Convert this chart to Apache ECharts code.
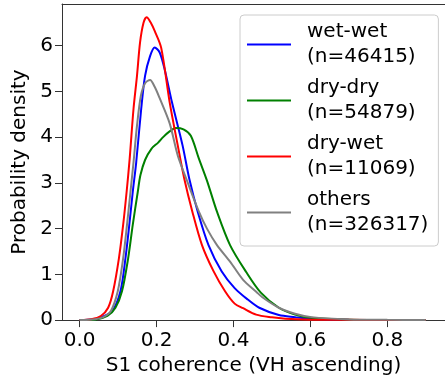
<!DOCTYPE html>
<html>
<head>
<meta charset="utf-8">
<script src="https://cdn.jsdelivr.net/npm/echarts@6/dist/echarts.min.js"></script>
<style>html,body{margin:0;padding:0;background:#fff;}#c{width:445px;height:381px;}</style>
</head>
<body>
<div id="c"></div>
<script>
const seriesNames = ['wet-wet', 'dry-dry', 'dry-wet', 'others'];
const seriesCounts = ['(n=46415)', '(n=54879)', '(n=11069)', '(n=326317)'];
const seriesColors = ['#0000ff', '#008000', '#ff0000', '#808080'];

const xTicks = [0.0, 0.2, 0.4, 0.6, 0.8];
const yTicks = [0, 1, 2, 3, 4, 5, 6];

const wetWetX = [0.0, 0.04, 0.059, 0.085, 0.106, 0.119, 0.129, 0.138, 0.147, 0.160, 0.170, 0.183, 0.195, 0.208, 0.221, 0.240, 0.2675, 0.285, 0.307, 0.335, 0.369, 0.403, 0.437, 0.467, 0.518, 0.56, 0.6, 0.7, 0.8, 0.9];
const wetWetY = [0.0, 0.02, 0.07, 0.2, 0.63, 1.35, 2.08, 2.80, 3.45, 4.62, 5.34, 5.77, 5.96, 5.85, 5.48, 4.76, 3.82, 3.09, 2.37, 1.64, 1.07, 0.70, 0.45, 0.27, 0.11, 0.065, 0.03, 0.008, 0.003, 0.0];

const dryDryX = [0.0, 0.04, 0.072, 0.093, 0.110, 0.126, 0.138, 0.151, 0.158, 0.170, 0.187, 0.204, 0.217, 0.233, 0.250, 0.270, 0.289, 0.310, 0.331, 0.357, 0.391, 0.433, 0.471, 0.518, 0.56, 0.6, 0.7, 0.8, 0.9];
const dryDryY = [0.0, 0.01, 0.09, 0.27, 0.63, 1.35, 2.08, 2.80, 3.17, 3.50, 3.75, 3.88, 4.0, 4.12, 4.2, 4.17, 4.03, 3.53, 3.05, 2.37, 1.64, 1.05, 0.6, 0.27, 0.12, 0.05, 0.01, 0.003, 0.0];

const dryWetX = [0.0, 0.03, 0.055, 0.074, 0.087, 0.102, 0.113, 0.122, 0.130, 0.140, 0.149, 0.157, 0.166, 0.174, 0.185, 0.195, 0.212, 0.234, 0.255, 0.272, 0.293, 0.318, 0.348, 0.378, 0.403, 0.425, 0.459, 0.50, 0.535, 0.6, 0.7, 0.8, 0.9];
const dryWetY = [0.0, 0.02, 0.09, 0.27, 0.63, 1.35, 2.08, 2.80, 3.53, 4.62, 5.34, 6.07, 6.50, 6.62, 6.50, 6.32, 5.95, 4.76, 3.82, 3.09, 2.37, 1.64, 1.07, 0.63, 0.36, 0.26, 0.12, 0.06, 0.03, 0.01, 0.005, 0.002, 0.0];

const othersX = [0.0, 0.04, 0.06, 0.081, 0.099, 0.113, 0.123, 0.132, 0.140, 0.149, 0.159, 0.170, 0.183, 0.195, 0.208, 0.234, 0.255, 0.279, 0.310, 0.331, 0.357, 0.391, 0.425, 0.459, 0.475, 0.518, 0.56, 0.603, 0.7, 0.8, 0.9];
const othersY = [0.0, 0.02, 0.06, 0.2, 0.63, 1.35, 2.08, 2.80, 3.45, 4.25, 4.9, 5.18, 5.25, 5.1, 4.85, 4.3, 3.6, 3.05, 2.37, 2.0, 1.64, 1.28, 0.88, 0.62, 0.50, 0.27, 0.14, 0.065, 0.015, 0.005, 0.0];

const allX = [wetWetX, dryDryX, dryWetX, othersX];
const allY = [wetWetY, dryDryY, dryWetY, othersY];

const font = 'DejaVu Sans';
const chart = echarts.init(document.getElementById('c'), null, {renderer: 'canvas'});

const series = seriesNames.map((name, i) => ({
  name: name,
  type: 'line',
  data: allX[i].map((x, j) => [x, allY[i][j]]),
  showSymbol: false,
  smooth: 0.3,
  lineStyle: {color: seriesColors[i], width: 2},
  itemStyle: {color: seriesColors[i]},
  z: 2 + i,
  animation: false
}));

const countMap = {};
seriesNames.forEach((n, i) => { countMap[n] = seriesCounts[i]; });

const frameColor = '#333333';

chart.setOption({
  animation: false,
  backgroundColor: '#ffffff',
  grid: {left: 62, top: 4, right: -8, bottom: 59, show: false},
  legend: {
    data: seriesNames,
    orient: 'vertical',
    left: 240, top: 15,
    padding: [5, 10, 9, 7],
    itemGap: 7,
    itemWidth: 44, itemHeight: 2,
    icon: 'rect',
    backgroundColor: 'rgba(255,255,255,0.85)',
    borderColor: '#cccccc', borderWidth: 1, borderRadius: 4,
    formatter: function (name) { return name + '\n' + countMap[name]; },
    textStyle: {fontFamily: font, fontSize: 20, lineHeight: 24.5, color: '#000', padding: [0, 0, 0, 11]}
  },
  xAxis: [{
    type: 'value', min: -0.046, max: 0.95, position: 'bottom',
    splitLine: {show: false},
    axisLine: {show: true, onZero: false, lineStyle: {color: frameColor, width: 1}},
    axisTick: {show: true, length: 7, customValues: xTicks, lineStyle: {color: frameColor}},
    axisLabel: {customValues: xTicks, margin: 11, fontFamily: font, fontSize: 20, color: '#000',
      formatter: v => v.toFixed(1)},
    name: 'S1 coherence (VH ascending)',
    nameLocation: 'middle', nameGap: 33,
    nameTextStyle: {fontFamily: font, fontSize: 20, color: '#000'}
  }, {
    type: 'value', min: -0.046, max: 0.95, position: 'top',
    splitLine: {show: false},
    axisLine: {show: true, onZero: false, lineStyle: {color: frameColor, width: 1}},
    axisTick: {show: false}, axisLabel: {show: false}
  }],
  yAxis: [{
    type: 'value', min: 0, max: 6.91, position: 'left',
    splitLine: {show: false},
    axisLine: {show: true, onZero: false, lineStyle: {color: frameColor, width: 1}},
    axisTick: {show: true, length: 7, customValues: yTicks, lineStyle: {color: frameColor}},
    axisLabel: {customValues: yTicks, margin: 9, fontFamily: font, fontSize: 20, color: '#000'},
    name: 'Probability density',
    nameLocation: 'middle', nameGap: 25,
    nameTextStyle: {fontFamily: font, fontSize: 20, color: '#000'}
  }],
  series: series
});
</script>
</body>
</html>
